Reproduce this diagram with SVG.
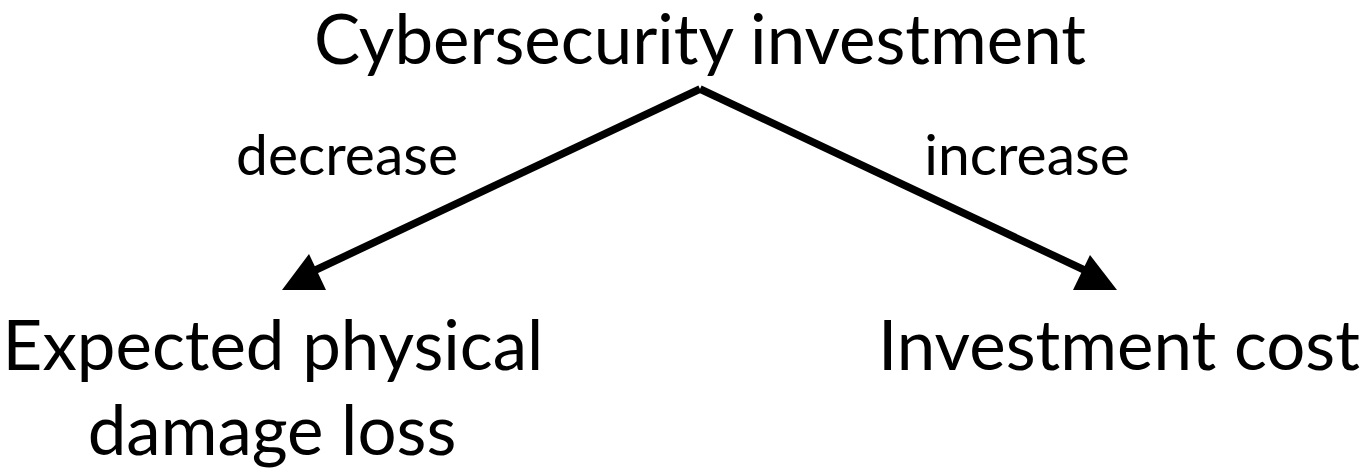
<svg xmlns="http://www.w3.org/2000/svg" width="1366" height="472" viewBox="0 0 1366 472">
<style>
text{font-family:Lato,"Open Sans",sans-serif;fill:#000;font-size:69px}
.lbl{font-size:57px}
.edge{stroke:#000;stroke-width:7.5;fill:none}
</style>
<rect width="1366" height="472" fill="#fff"/>
<g id="n-top"><text x="700" y="64" text-anchor="middle">Cybersecurity investment</text></g>
<g id="n-left"><text x="273" y="370" text-anchor="middle">Expected physical</text><text x="272" y="455" text-anchor="middle">damage loss</text></g>
<g id="n-right"><text x="1119" y="370" text-anchor="middle">Investment cost</text></g>
<g id="connectors">
<path class="edge" d="M700,89 L305,275"/>
<path class="edge" d="M700,89 L1095,275"/>
<polygon points="282,290 309,254 326,290" fill="#000"/>
<polygon points="1073,290 1090,255 1117,290" fill="#000"/>
<text class="lbl" x="347" y="175" text-anchor="middle">decrease</text>
<text class="lbl" x="1027" y="175" text-anchor="middle">increase</text>
</g>
</svg>
